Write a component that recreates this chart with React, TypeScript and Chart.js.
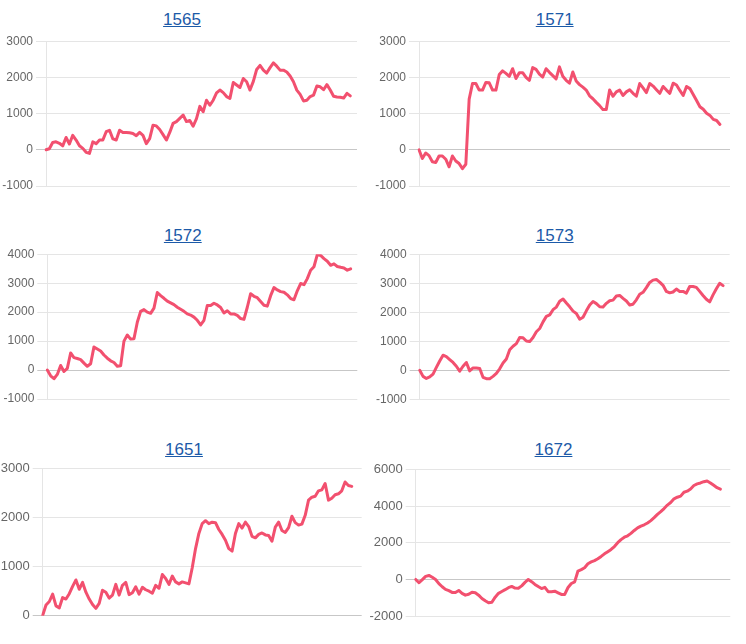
import React, { useEffect, useRef } from "react";
import { Chart, registerables } from "chart.js";

Chart.register(...registerables);

// ---------- data ----------
const TITLES = ["1565", "1571", "1572", "1573", "1651", "1672"];

const S1565 = [0, 30, 200, 220, 180, 110, 340, 160, 400, 270, 110, 40, -70, -100, 220, 170, 270, 270, 500, 540,
  300, 270, 540, 480, 480, 470, 450, 390, 480, 400, 170, 310, 680, 660, 560, 420, 270, 480, 730, 780,
  870, 960, 780, 810, 650, 860, 1200, 1050, 1370, 1230, 1370, 1570, 1650, 1580, 1470, 1420, 1860, 1790, 1720, 1970,
  1880, 1650, 1890, 2220, 2330, 2200, 2120, 2270, 2400, 2310, 2200, 2200, 2150, 2040, 1880, 1650, 1530, 1350, 1370, 1470,
  1510, 1760, 1740, 1660, 1800, 1650, 1480, 1460, 1450, 1430, 1560, 1490];

const S1571 = [0, -240, -90, -160, -330, -350, -170, -170, -260, -470, -170, -310, -380, -520, -400, 1400, 1830, 1830, 1650, 1650,
  1860, 1850, 1650, 1650, 2080, 2180, 2110, 2030, 2240, 1970, 2130, 2130, 2000, 1920, 2270, 2220, 2090, 2010, 2240, 2140,
  2050, 1960, 2290, 2030, 1920, 1840, 2150, 1900, 1800, 1730, 1650, 1490, 1410, 1310, 1220, 1110, 1110, 1650, 1480, 1600,
  1650, 1500, 1600, 1660, 1560, 1480, 1830, 1710, 1580, 1830, 1760, 1660, 1560, 1750, 1650, 1560, 1840, 1790, 1640, 1500,
  1750, 1690, 1530, 1360, 1190, 1120, 1010, 950, 840, 810, 700];

const S1572 = [0, -200, -300, -150, 160, -50, 60, 590, 430, 400, 360, 240, 130, 220, 800, 730, 660, 520, 410, 320,
  260, 130, 150, 1000, 1210, 1070, 1080, 1650, 2030, 2090, 2000, 1960, 2140, 2680, 2570, 2480, 2380, 2320, 2260, 2170,
  2100, 2030, 1940, 1900, 1830, 1720, 1560, 1720, 2230, 2230, 2310, 2250, 2160, 1970, 2050, 1940, 1940, 1890, 1780, 1750,
  2170, 2640, 2550, 2500, 2370, 2240, 2210, 2570, 2850, 2770, 2710, 2690, 2600, 2470, 2430, 2740, 2990, 2950, 3160, 3450,
  3570, 3990, 3960, 3850, 3760, 3620, 3670, 3580, 3550, 3530, 3450, 3500];

const S1573 = [0, -210, -280, -230, -130, 100, 320, 520, 470, 370, 270, 140, -30, 140, 270, -20, 80, 80, 60, -240,
  -290, -290, -210, -110, 50, 250, 390, 710, 830, 920, 1130, 1120, 1010, 990, 1130, 1330, 1440, 1670, 1860, 1910,
  2090, 2180, 2380, 2460, 2320, 2190, 2040, 1960, 1760, 1830, 2050, 2250, 2370, 2300, 2190, 2180, 2310, 2400, 2420, 2560,
  2580, 2480, 2390, 2250, 2280, 2430, 2620, 2690, 2850, 3030, 3110, 3130, 3040, 2930, 2720, 2670, 2700, 2800, 2720, 2720,
  2660, 2890, 2890, 2860, 2720, 2580, 2450, 2360, 2600, 2810, 3000, 2920];

const S1651 = [10, 220, 290, 440, 200, 160, 370, 340, 450, 600, 730, 540, 680, 480, 340, 230, 150, 250, 520, 480,
  360, 420, 640, 420, 620, 680, 430, 470, 590, 440, 580, 530, 500, 460, 620, 560, 840, 760, 640, 810,
  690, 650, 690, 670, 650, 980, 1370, 1680, 1880, 1940, 1880, 1910, 1900, 1760, 1660, 1540, 1370, 1320, 1680, 1880,
  1790, 1910, 1820, 1620, 1590, 1660, 1690, 1650, 1640, 1520, 1810, 1910, 1740, 1700, 1800, 2030, 1900, 1850, 1870, 2050,
  2360, 2420, 2440, 2550, 2570, 2700, 2360, 2400, 2470, 2490, 2550, 2730, 2660, 2640];

const S1672 = [0, -180, -10, 170, 220, 120, 0, -230, -400, -540, -610, -710, -710, -600, -760, -860, -810, -700, -730, -860,
  -1040, -1170, -1280, -1250, -970, -760, -660, -560, -450, -380, -470, -480, -350, -160, 0, -120, -270, -390, -500, -430,
  -670, -670, -640, -730, -820, -820, -440, -220, -130, 460, 540, 640, 860, 960, 1030, 1130, 1260, 1400, 1520, 1640,
  1800, 2010, 2180, 2310, 2390, 2520, 2680, 2820, 2920, 2990, 3090, 3220, 3380, 3560, 3710, 3880, 4070, 4210, 4410, 4500,
  4560, 4770, 4830, 4950, 5140, 5230, 5280, 5350, 5390, 5280, 5150, 5020, 4940];

const SERIES = [S1565, S1571, S1572, S1573, S1651, S1672];
const Y_MIN = [-1000, -1000, -1000, -1000, 0, -2000];
const Y_MAX = [3000, 3000, 4000, 4000, 3000, 6000];
const Y_STEP = [1000, 1000, 1000, 1000, 1000, 2000];
const X_SLOTS = [94, 94, 94, 94, 97, 96];

// ---------- layout (positions only) ----------
const BOXES = [
  { left: 46, right: 357, top: 41, bottom: 186, titleX: 182, titleTop: 10, tick: 12 },
  { left: 419, right: 730, top: 41, bottom: 186, titleX: 554.7, titleTop: 10, tick: 12 },
  { left: 47.3, right: 357.3, top: 254.3, bottom: 399, titleX: 182.8, titleTop: 226, tick: 12 },
  { left: 419.7, right: 729.7, top: 254.3, bottom: 399.3, titleX: 554.7, titleTop: 226, tick: 12 },
  { left: 42.7, right: 361.7, top: 468.3, bottom: 615.7, titleX: 184, titleTop: 440, tick: 13 },
  { left: 415.7, right: 730.3, top: 469, bottom: 616, titleX: 553.5, titleTop: 440, tick: 13 },
];

const LINE_COLOR = "#f2506f";
const TITLE_COLOR = "#1c5aa8";

function Panel({ idx }: { idx: number }) {
  const ref = useRef<HTMLCanvasElement>(null);
  const b = BOXES[idx];
  const cl = Math.floor(b.left - 50);
  const axisW = b.left - cl;
  const ct = Math.floor(b.top) - 10;
  const padTop = b.top - ct;
  const ch = Math.ceil(b.bottom + 12 - ct);
  const padBottom = ct + ch - b.bottom;
  const cw = Math.ceil(b.right - cl);
  const padRight = cl + cw - b.right;

  useEffect(() => {
    if (!ref.current) return;
    const data = SERIES[idx];
    const labels = Array.from({ length: X_SLOTS[idx] }, (_, i) => String(i + 1));
    const chart = new Chart(ref.current, {
      type: "line",
      data: {
        labels,
        datasets: [
          {
            data,
            borderColor: LINE_COLOR,
            backgroundColor: LINE_COLOR,
            borderWidth: 3,
            pointRadius: 0,
            tension: 0,
            fill: false,
            borderJoinStyle: "round",
            borderCapStyle: "round",
          },
        ],
      },
      options: {
        responsive: false,
        animation: false,
        layout: { padding: { top: padTop, bottom: padBottom, left: 0, right: padRight } },
        plugins: {
          legend: { display: false },
          tooltip: { enabled: false },
          title: { display: false },
        },
        scales: {
          x: { display: false },
          y: {
            min: Y_MIN[idx],
            max: Y_MAX[idx],
            afterFit: (s: any) => {
              s.width = axisW;
            },
            ticks: {
              stepSize: Y_STEP[idx],
              color: "#666",
              padding: 3,
              font: { size: b.tick, family: "Arial" },
              callback: (v: any) => String(v),
            },
            grid: {
              color: (c: any) => (c.tick && c.tick.value === 0 ? "rgba(0,0,0,0.22)" : "rgba(0,0,0,0.1)"),
              tickLength: 10,
            },
            border: { display: true, color: "rgba(0,0,0,0.1)" },
          },
        },
      },
    } as any);
    return () => chart.destroy();
  }, [idx]);

  return (
    <>
      <div
        style={{
          position: "absolute",
          left: b.titleX - 60,
          top: b.titleTop,
          width: 120,
          textAlign: "center",
          fontFamily: "Arial, 'Liberation Sans', sans-serif",
          fontSize: 17,
          lineHeight: "20px",
        }}
      >
        <span style={{ color: TITLE_COLOR, textDecoration: "underline" }}>{TITLES[idx]}</span>
      </div>
      <canvas
        ref={ref}
        width={cw}
        height={ch}
        style={{ position: "absolute", left: cl, top: ct, width: cw, height: ch }}
      />
    </>
  );
}

export default function App() {
  return (
    <div
      style={{
        position: "fixed",
        left: 0,
        top: 0,
        width: 746,
        height: 644,
        overflow: "hidden",
        background: "#fff",
      }}
    >
      {TITLES.map((_, i) => (
        <Panel key={i} idx={i} />
      ))}
    </div>
  );
}
